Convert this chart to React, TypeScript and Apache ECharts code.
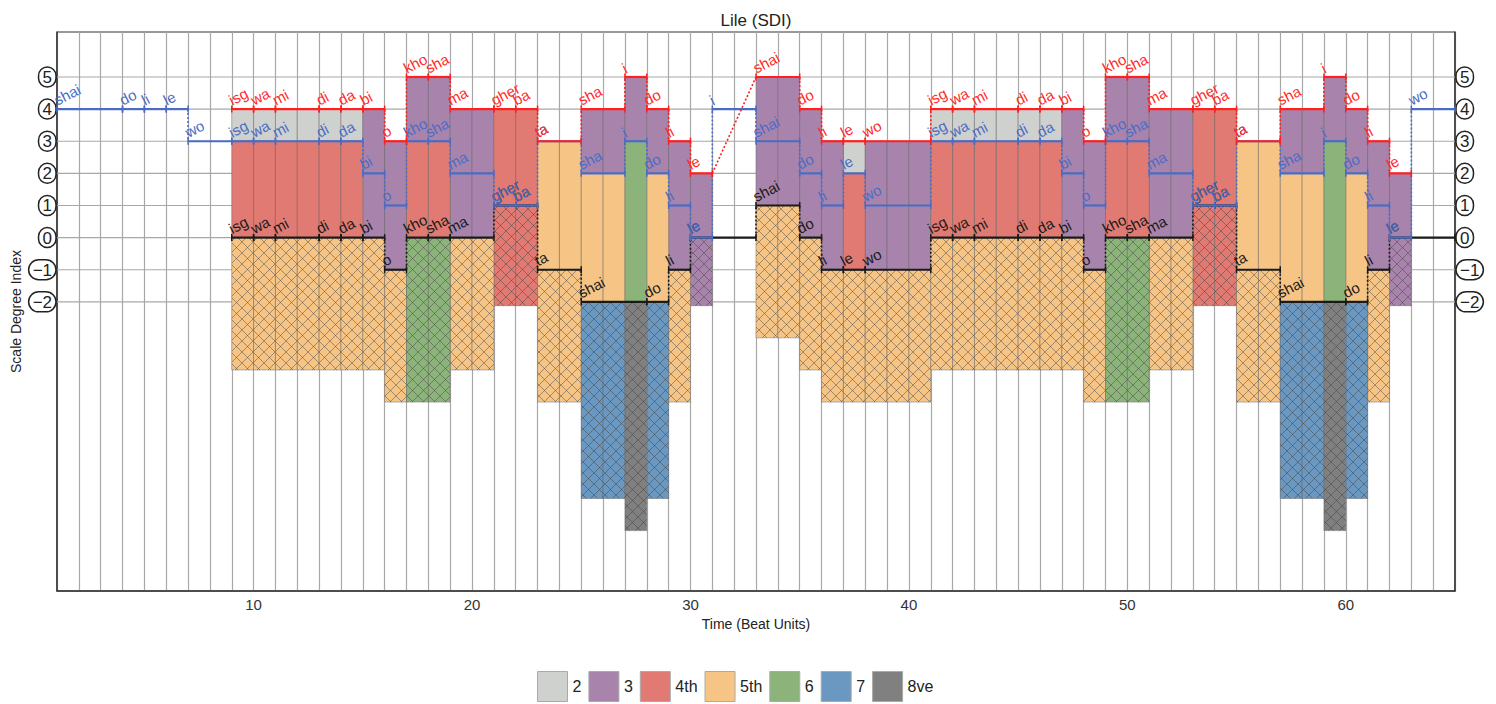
import React, { useEffect, useRef } from "react";
import * as echarts from "echarts";

// ---------- data ----------
const intervalNames = ["2", "3", "4th", "5th", "6", "7", "8ve"];
const intervalColors = ["#cfd1cf", "#a884ad", "#e07a72", "#f6c586", "#8cb47a", "#6a98c0", "#808080"];

type Note = [number, number, number, string]; // start, end, scale degree, syllable

const topVoice: Note[] = [
  [9, 10, 4, "isg"], [10, 11, 4, "wa"], [11, 13, 4, "mi"], [13, 14, 4, "di"], [14, 15, 4, "da"],
  [15, 16, 4, "bi"], [16, 17, 3, "o"], [17, 18, 5, "kho"], [18, 19, 5, "sha"], [19, 21, 4, "ma"],
  [21, 22, 4, "gher"], [22, 23, 4, "ba"], [23, 25, 3, "ta"], [25, 27, 4, "sha"], [27, 28, 5, "i"],
  [28, 29, 4, "do"], [29, 30, 3, "li"], [30, 31, 2, "le"],
  [33, 35, 5, "shai"], [35, 36, 4, "do"], [36, 37, 3, "li"], [37, 38, 3, "le"], [38, 41, 3, "wo"],
  [41, 42, 4, "isg"], [42, 43, 4, "wa"], [43, 45, 4, "mi"], [45, 46, 4, "di"], [46, 47, 4, "da"],
  [47, 48, 4, "bi"], [48, 49, 3, "o"], [49, 50, 5, "kho"], [50, 51, 5, "sha"], [51, 53, 4, "ma"],
  [53, 54, 4, "gher"], [54, 55, 4, "ba"], [55, 57, 3, "ta"], [57, 59, 4, "sha"], [59, 60, 5, "i"],
  [60, 61, 4, "do"], [61, 62, 3, "li"], [62, 63, 2, "le"],
];

const middleVoice: Note[] = [
  [1, 4, 4, "shai"], [4, 5, 4, "do"], [5, 6, 4, "li"], [6, 7, 4, "le"], [7, 9, 3, "wo"],
  [9, 10, 3, "isg"], [10, 11, 3, "wa"], [11, 13, 3, "mi"], [13, 14, 3, "di"], [14, 15, 3, "da"],
  [15, 16, 2, "bi"], [16, 17, 1, "o"], [17, 18, 3, "kho"], [18, 19, 3, "sha"], [19, 21, 2, "ma"],
  [21, 22, 1, "gher"], [22, 23, 1, "ba"], [23, 25, 3, "ta"], [25, 27, 2, "sha"], [27, 28, 3, "i"],
  [28, 29, 2, "do"], [29, 30, 1, "li"], [30, 31, 0, "le"], [31, 33, 4, "i"],
  [33, 35, 3, "shai"], [35, 36, 2, "do"], [36, 37, 1, "li"], [37, 38, 2, "le"], [38, 41, 1, "wo"],
  [41, 42, 3, "isg"], [42, 43, 3, "wa"], [43, 45, 3, "mi"], [45, 46, 3, "di"], [46, 47, 3, "da"],
  [47, 48, 2, "bi"], [48, 49, 1, "o"], [49, 50, 3, "kho"], [50, 51, 3, "sha"], [51, 53, 2, "ma"],
  [53, 54, 1, "gher"], [54, 55, 1, "ba"], [55, 57, 3, "ta"], [57, 59, 2, "sha"], [59, 60, 3, "i"],
  [60, 61, 2, "do"], [61, 62, 1, "li"], [62, 63, 0, "le"], [63, 65, 4, "wo"],
];

const bottomVoice: Note[] = [
  [9, 10, 0, "isg"], [10, 11, 0, "wa"], [11, 13, 0, "mi"], [13, 14, 0, "di"], [14, 15, 0, "da"],
  [15, 16, 0, "bi"], [16, 17, -1, "o"], [17, 18, 0, "kho"], [18, 19, 0, "sha"], [19, 21, 0, "ma"],
  [21, 22, 1, "gher"], [22, 23, 1, "ba"], [23, 25, -1, "ta"], [25, 28, -2, "shai"], [28, 29, -2, "do"],
  [29, 30, -1, "li"], [30, 33, 0, "le"],
  [33, 35, 1, "shai"], [35, 36, 0, "do"], [36, 37, -1, "li"], [37, 38, -1, "le"], [38, 41, -1, "wo"],
  [41, 42, 0, "isg"], [42, 43, 0, "wa"], [43, 45, 0, "mi"], [45, 46, 0, "di"], [46, 47, 0, "da"],
  [47, 48, 0, "bi"], [48, 49, -1, "o"], [49, 50, 0, "kho"], [50, 51, 0, "sha"], [51, 53, 0, "ma"],
  [53, 54, 1, "gher"], [54, 55, 1, "ba"], [55, 57, -1, "ta"], [57, 60, -2, "shai"], [60, 61, -2, "do"],
  [61, 62, -1, "li"], [62, 65, 0, "le"],
];

const degreeTicks = [-2, -1, 0, 1, 2, 3, 4, 5];
const degreeTickLabels = ["\u22122", "\u22121", "0", "1", "2", "3", "4", "5"];
const xLabelTicks = [10, 20, 30, 40, 50, 60];

// ---------- layout / style constants ----------
const X_MIN = 1;
const X_MAX = 65;
const Y_MIN = -11;
const Y_MAX = 6.4;
const HATCH_EXTRA = 0.12;
const HATCH_STEP = 11;
const FONT = '"Liberation Sans", Arial, Helvetica, sans-serif';

function pitchAt(notes: Note[], t: number): number | null {
  for (const n of notes) if (n[0] <= t && t < n[1]) return n[2];
  return null;
}

// rect data per interval class: [x0, x1, yLow, yHigh, hatched]
const rectData: number[][][] = intervalNames.map(() => []);
for (let t = X_MIN; t < X_MAX; t++) {
  const c = t + 0.5;
  const r = pitchAt(topVoice, c);
  const b = pitchAt(middleVoice, c);
  const k = pitchAt(bottomVoice, c);
  if (r === null || b === null || k === null) continue;
  if (r - b > 0) rectData[r - b - 1].push([t, t + 1, b, r, 0]);
  if (b - k > 0) rectData[b - k - 1].push([t, t + 1, k, b, 0]);
  if (r - k > 0) rectData[r - k - 1].push([t, t + 1, k - (r - k) - HATCH_EXTRA, k, 1]);
}

function hatchLines(X0: number, Y0: number, X1: number, Y1: number) {
  const out: any[] = [];
  const st = { stroke: "rgba(60,60,60,0.5)", lineWidth: 0.9 };
  // family x + y = c
  for (let k = Math.ceil((X0 + Y0) / HATCH_STEP); k * HATCH_STEP <= X1 + Y1; k++) {
    const c = k * HATCH_STEP;
    const xa = Math.max(X0, c - Y1);
    const xb = Math.min(X1, c - Y0);
    if (xb > xa) out.push({ type: "line", shape: { x1: xa, y1: c - xa, x2: xb, y2: c - xb }, style: st, silent: true });
  }
  // family x - y = c
  for (let k = Math.ceil((X0 - Y1) / HATCH_STEP); k * HATCH_STEP <= X1 - Y0; k++) {
    const c = k * HATCH_STEP;
    const xa = Math.max(X0, c + Y0);
    const xb = Math.min(X1, c + Y1);
    if (xb > xa) out.push({ type: "line", shape: { x1: xa, y1: xa - c, x2: xb, y2: xb - c }, style: st, silent: true });
  }
  return out;
}

function rectRenderer(color: string) {
  return (_params: any, api: any) => {
    const p0 = api.coord([api.value(0), api.value(3)]);
    const p1 = api.coord([api.value(1), api.value(2)]);
    const X0 = p0[0], Y0 = p0[1], X1 = p1[0], Y1 = p1[1];
    const children: any[] = [
      {
        type: "rect",
        shape: { x: X0, y: Y0, width: X1 - X0, height: Y1 - Y0 },
        style: { fill: color, stroke: "rgba(100,100,100,0.45)", lineWidth: 1 },
      },
    ];
    if (api.value(4)) children.push(...hatchLines(X0, Y0, X1, Y1));
    return { type: "group", children };
  };
}

function voiceRenderer(notes: Note[], color: string, labelColor: string) {
  return (params: any, api: any) => {
    const i = params.dataIndex;
    const s = api.value(0), e = api.value(1), p = api.value(2);
    const a = api.coord([s, p]);
    const b = api.coord([e, p]);
    const tickH = 3.5;
    const children: any[] = [];
    if (i > 0) {
      const prev = notes[i - 1];
      if (prev[2] !== p || prev[1] !== s) {
        const q = api.coord([prev[1], prev[2]]);
        children.push({
          type: "line",
          shape: { x1: q[0], y1: q[1], x2: a[0], y2: a[1] },
          style: { stroke: color, lineWidth: 1.6, lineDash: [2, 2] },
        });
      }
    }
    children.push(
      { type: "line", shape: { x1: a[0], y1: a[1], x2: b[0], y2: b[1] }, style: { stroke: color, lineWidth: 2.2 } },
      { type: "line", shape: { x1: a[0], y1: a[1] - tickH, x2: a[0], y2: a[1] + tickH }, style: { stroke: color, lineWidth: 1.5 } },
      { type: "line", shape: { x1: b[0], y1: b[1] - tickH, x2: b[0], y2: b[1] + tickH }, style: { stroke: color, lineWidth: 1.5 } },
      {
        type: "text",
        x: a[0] + 1.5,
        y: a[1] - 1.5,
        rotation: 0.48,
        style: {
          text: notes[i][3],
          fill: labelColor,
          font: `15px ${FONT}`,
          align: "left",
          verticalAlign: "bottom",
          textAlign: "left",
          textVerticalAlign: "bottom",
        },
      }
    );
    return { type: "group", children };
  };
}

function circledLabel(v: number) {
  const r = Math.round(v);
  if (Math.abs(v - r) > 1e-6) return "";
  const idx = degreeTicks.indexOf(r);
  return idx >= 0 ? `{c|${degreeTickLabels[idx]}}` : "";
}

const circleRich = {
  c: {
    fontSize: 17,
    lineHeight: 18,
    fontFamily: FONT,
    color: "#222",
    padding: [2, 4, 1, 4],
    borderColor: "#222",
    borderWidth: 1.5,
    borderRadius: 12,
    align: "center",
  },
};

export default function App() {
  const ref = useRef<HTMLDivElement>(null);

  useEffect(() => {
    if (!ref.current) return;
    const chart = echarts.init(ref.current, undefined, { renderer: "svg" });

    const rectSeries = intervalNames.map((name, idx) => ({
      name,
      type: "custom",
      coordinateSystem: "cartesian2d",
      itemStyle: { color: intervalColors[idx] },
      encode: { x: [0, 1], y: [2, 3] },
      data: rectData[idx],
      renderItem: rectRenderer(intervalColors[idx]),
      silent: true,
      z: 2,
    }));

    const voiceSeries = [
      { notes: bottomVoice, color: "#1a1a1a", label: "#1a1a1a", name: "bottom" },
      { notes: middleVoice, color: "#4a6cc4", label: "#4a6cc4", name: "middle" },
      { notes: topVoice, color: "#ff1f1f", label: "#ff2a2a", name: "top" },
    ].map((v) => ({
      name: v.name,
      type: "custom",
      coordinateSystem: "cartesian2d",
      encode: { x: [0, 1], y: 2 },
      data: v.notes.map((n) => [n[0], n[1], n[2]]),
      renderItem: voiceRenderer(v.notes, v.color, v.label),
      silent: true,
      z: 5,
    }));

    const gridLineSeries = {
      name: "hgrid",
      type: "custom",
      coordinateSystem: "cartesian2d",
      encode: { y: 0 },
      data: degreeTicks.map((d) => [d]),
      renderItem: (_p: any, api: any) => {
        const a = api.coord([X_MIN, api.value(0)]);
        const b = api.coord([X_MAX, api.value(0)]);
        return {
          type: "line",
          shape: { x1: a[0], y1: a[1], x2: b[0], y2: b[1] },
          style: { stroke: "#a8a8a8", lineWidth: 1.2 },
        };
      },
      silent: true,
      z: 1,
    };

    const yAxisBase = {
      type: "value",
      min: Y_MIN,
      max: Y_MAX,
      interval: 1,
      axisTick: { show: false },
      splitLine: { show: false },
      axisLine: { show: true, onZero: false, lineStyle: { color: "#333", width: 1.5 } },
      axisLabel: { formatter: circledLabel, rich: circleRich, margin: 1, showMaxLabel: false, showMinLabel: false },
    };

    chart.setOption({
      animation: false,
      textStyle: { fontFamily: FONT },
      graphic: [
        {
          type: "text",
          x: 756,
          y: 20,
          style: {
            text: "Lile (SDI)",
            fill: "#222",
            font: `17px ${FONT}`,
            align: "center",
            verticalAlign: "middle",
            textAlign: "center",
            textVerticalAlign: "middle",
          },
        },
      ],
      grid: {
        left: 57,
        right: 41,
        top: 32,
        bottom: 113,
        show: true,
        borderColor: "#333",
        borderWidth: 1,
        containLabel: false,
        outerBoundsMode: "none",
      },
      legend: {
        data: intervalNames,
        left: 532,
        top: 666,
        itemWidth: 30,
        itemHeight: 30,
        itemGap: 7,
        icon: "rect",
        itemStyle: { borderColor: "#aaa", borderWidth: 1 },
        textStyle: { fontSize: 16, color: "#222", fontFamily: FONT },
        selectedMode: false,
      },
      xAxis: {
        type: "value",
        min: X_MIN,
        max: X_MAX,
        interval: 1,
        name: "Time (Beat Units)",
        nameLocation: "middle",
        nameGap: 26,
        nameMoveOverlap: false,
        nameTextStyle: { fontSize: 14, color: "#222" },
        axisLine: { show: true, onZero: false, lineStyle: { color: "#333", width: 1.5 } },
        axisTick: { show: false },
        axisLabel: {
          formatter: (v: number) => (xLabelTicks.includes(v) ? String(v) : ""),
          fontSize: 15,
          color: "#333",
          margin: 6,
          hideOverlap: false,
        },
        splitLine: { show: true, lineStyle: { color: "#a8a8a8", width: 1.2 } },
      },
      yAxis: [
        {
          ...yAxisBase,
          position: "left",
          name: "Scale Degree Index",
          nameLocation: "middle",
          nameGap: 34,
          nameMoveOverlap: false,
          nameTextStyle: { fontSize: 14, color: "#222" },
        },
        { ...yAxisBase, position: "right" },
      ],
      series: [gridLineSeries, ...rectSeries, ...voiceSeries],
    });

    return () => chart.dispose();
  }, []);

  return (
    <div
      ref={ref}
      style={{ position: "fixed", left: 0, top: 0, width: 1496, height: 704, background: "#fff" }}
    />
  );
}
